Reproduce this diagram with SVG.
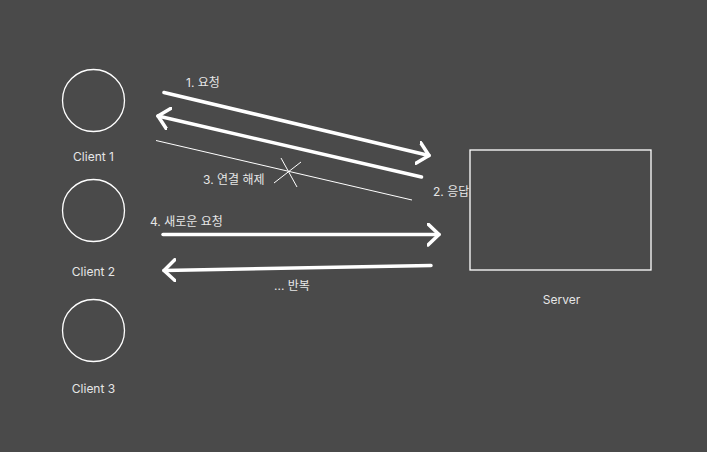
<svg xmlns="http://www.w3.org/2000/svg" width="707" height="452" viewBox="0 0 707 452">
<style>
.bg{fill:#4a4a4a}
.node{fill:none;stroke:#ffffff;stroke-width:1.3}
.lbl{fill:#e6e6e6;font-family:Inter,"Noto Sans","Noto Sans CJK KR",sans-serif;font-size:12px}
.arrow{fill:none;stroke:#ffffff;stroke-width:3.5;stroke-linecap:round}
.thin{fill:none;stroke:#ffffff;stroke-width:1}
</style>
<defs>
<marker id="head" viewBox="0 0 14 24" refX="12" refY="12" markerWidth="14" markerHeight="24" markerUnits="userSpaceOnUse" orient="auto">
<path d="M1,1.5 L12,12 L1,22.5" fill="none" stroke="#ffffff" stroke-width="3.5" stroke-linecap="round" stroke-linejoin="round"/>
</marker>
</defs>
<rect class="bg" x="0" y="0" width="707" height="452"/>
<g id="client1">
<circle class="node" cx="93.5" cy="100.5" r="31"/>
<text class="lbl" x="93.5" y="160.5" text-anchor="middle">Client 1</text>
</g>
<g id="client2">
<circle class="node" cx="93.5" cy="210.5" r="31"/>
<text class="lbl" x="93.5" y="275.5" text-anchor="middle">Client 2</text>
</g>
<g id="client3">
<circle class="node" cx="93.5" cy="330.5" r="31"/>
<text class="lbl" x="93.5" y="392.5" text-anchor="middle">Client 3</text>
</g>
<g id="server">
<rect class="node" x="470" y="150" width="181" height="120"/>
<text class="lbl" x="561.5" y="304" text-anchor="middle">Server</text>
</g>
<g id="connectors">
<line class="arrow" x1="164" y1="92.5" x2="429" y2="155.5" marker-end="url(#head)"/>
<text class="lbl" x="186" y="87">1. 요청</text>
<line class="arrow" x1="421.5" y1="177" x2="158" y2="116" marker-end="url(#head)"/>
<text class="lbl" x="433" y="196">2. 응답</text>
<line class="thin" x1="156" y1="140.5" x2="412" y2="200"/>
<line class="thin" x1="274" y1="183" x2="301" y2="162"/>
<line class="thin" x1="281" y1="158" x2="297" y2="187"/>
<text class="lbl" x="203" y="184">3. 연결 해제</text>
<line class="arrow" x1="163" y1="234.5" x2="439" y2="234.5" marker-end="url(#head)"/>
<text class="lbl" x="150" y="226">4. 새로운 요청</text>
<line class="arrow" x1="431" y1="265.5" x2="164" y2="270.5" marker-end="url(#head)"/>
<text class="lbl" x="274" y="290">... 반복</text>
</g>
</svg>
